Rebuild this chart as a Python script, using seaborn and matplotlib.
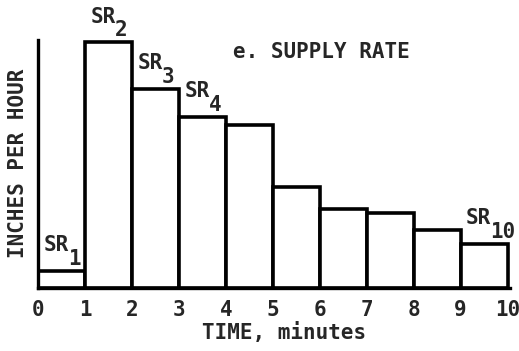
import matplotlib
matplotlib.use("Agg")
import matplotlib.pyplot as plt
import numpy as np
import pandas as pd
import seaborn as sns

# Supply rate for each one-minute interval
minutes_start = [0, 1, 2, 3, 4, 5, 6, 7, 8, 9]
supply_rate = [0.35, 5.0, 4.05, 3.48, 3.31, 2.05, 1.6, 1.52, 1.18, 0.9]
rate_labels = ["1", "2", "3", "4", "", "", "", "", "", "10"]
x_ticks = [0, 1, 2, 3, 4, 5, 6, 7, 8, 9, 10]

sns.set_style("ticks")
plt.rcParams["font.family"] = ["DejaVu Sans Mono"]
plt.rcParams["font.weight"] = "bold"

df = pd.DataFrame({"mid": np.array(minutes_start) + 0.5, "rate": supply_rate})

fig = plt.figure(figsize=(5.19, 3.51), dpi=100)
ax = fig.add_axes([38 / 519, 63 / 351, 472 / 519, 248 / 351])

sns.histplot(data=df, x="mid", weights="rate", bins=x_ticks, ax=ax,
             stat="count", fill=True, color="white", edgecolor="black",
             linewidth=2.6, alpha=1.0)

ax.set_xlim(0, 10.05)
ax.set_ylim(0, 5.04)
ax.set_xticks(x_ticks)
ax.set_xticklabels([str(t) for t in x_ticks], fontsize=15, fontweight="bold")
ax.set_yticks([])
ax.tick_params(axis="x", length=0, pad=8.5)
for side in ("top", "right"):
    ax.spines[side].set_visible(False)
for side in ("left", "bottom"):
    ax.spines[side].set_linewidth(2.4)
    ax.spines[side].set_color("black")

ax.set_xlabel("TIME, minutes", fontsize=15, fontweight="bold")
ax.xaxis.set_label_coords(0.521, -0.181)
ax.xaxis.label.set_va("center")
ax.set_ylabel("INCHES PER HOUR", fontsize=15, fontweight="bold")
ax.yaxis.set_label_coords(-0.043, 0.504)
ax.yaxis.label.set_va("center")

ax.text(0.413, 0.952, "e. SUPPLY RATE", transform=ax.transAxes,
        fontsize=15, fontweight="bold", ha="left", va="center")

# SR labels with subscripts at the upper-left corner of the bars
for x0, val, sub in zip(minutes_start, supply_rate, rate_labels):
    if not sub:
        continue
    ax.annotate("SR", xy=(x0, val), xytext=(3.8, 14), textcoords="offset points",
                fontsize=15, fontweight="bold", ha="left", va="baseline")
    ax.annotate(sub, xy=(x0, val), xytext=(21.5, 4), textcoords="offset points",
                fontsize=15, fontweight="bold", ha="left", va="baseline")

fig.savefig("out.png", dpi=100, facecolor="white")
